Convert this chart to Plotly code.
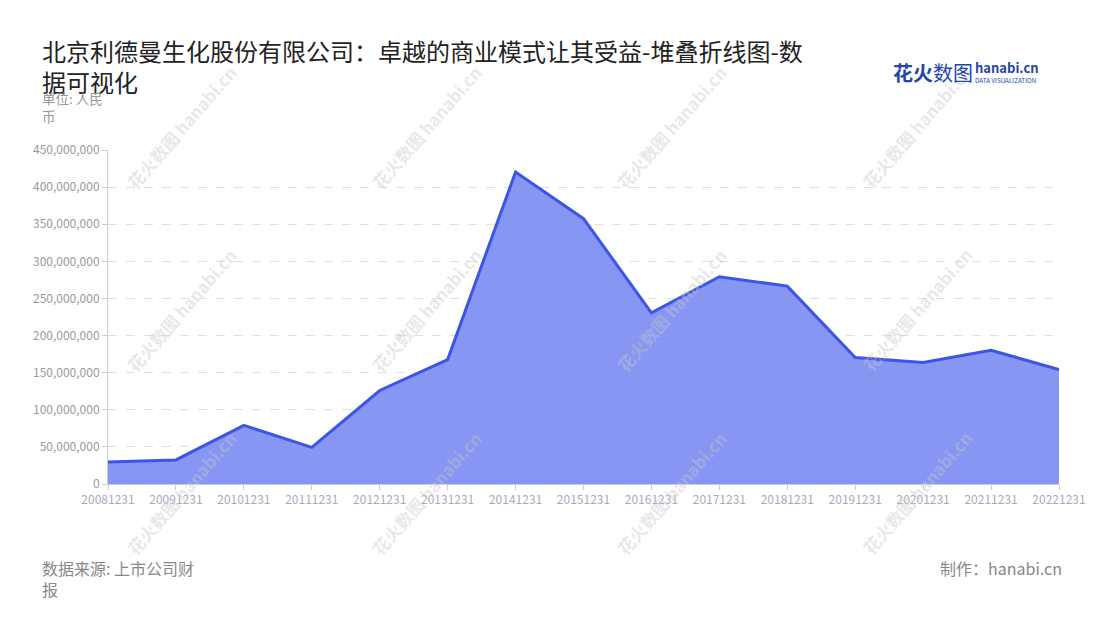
import plotly.graph_objects as go

dates = ["20081231", "20091231", "20101231", "20111231", "20121231", "20131231",
         "20141231", "20151231", "20161231", "20171231", "20181231", "20191231",
         "20201231", "20211231", "20221231"]
revenue = [29.7e6, 32.4e6, 79.0e6, 49.4e6, 126.0e6, 167.7e6, 420.3e6, 357.5e6,
           230.7e6, 279.2e6, 266.6e6, 170.4e6, 163.6e6, 180.2e6, 154.2e6]
y_ticks = [0, 50e6, 100e6, 150e6, 200e6, 250e6, 300e6, 350e6, 400e6, 450e6]
y_tick_labels = ["0", "50,000,000", "100,000,000", "150,000,000", "200,000,000",
                 "250,000,000", "300,000,000", "350,000,000", "400,000,000", "450,000,000"]

FONT = "Noto Sans CJK SC"

fig = go.Figure()
fig.add_trace(go.Scatter(
    x=dates, y=revenue, mode="lines",
    line=dict(color="#3b55e6", width=3),
    fill="tozeroy", fillcolor="#8696f2",
    hoverinfo="x+y", showlegend=False,
))

annotations = []
# watermarks
for wx in [0.0778, 0.3354, 0.593, 0.8507]:
    for wy in [1.0689, 0.521, -0.0269]:
        annotations.append(dict(
            xref="paper", yref="paper", x=wx, y=wy, xanchor="center", yanchor="middle",
            showarrow=False,
            text="<b>花火数图 hanabi.cn</b>", textangle=-49,
            font=dict(family=FONT, size=17, color="rgba(200,200,200,0.42)"),
        ))

annotations += [
    dict(xref="paper", yref="paper", x=-0.0715, y=1.1916, xanchor="left", yanchor="top",
         showarrow=False, align="left",
         text="单位: 人民<br>币",
         font=dict(family=FONT, size=13.5, color="#999999")),
    dict(xref="paper", yref="paper", x=-0.0715, y=-0.211, xanchor="left", yanchor="top",
         showarrow=False, align="left",
         text="数据来源: 上市公司财<br>报",
         font=dict(family=FONT, size=16, color="#888888")),
    dict(xref="paper", yref="paper", x=1.0053, y=-0.211, xanchor="right", yanchor="top",
         showarrow=False, align="right",
         text="制作：hanabi.cn",
         font=dict(family=FONT, size=16, color="#888888")),
    # logo
    dict(xref="paper", yref="paper", x=0.823, y=1.2335, xanchor="left", yanchor="middle",
         showarrow=False, text="<b>花火</b>数图",
         font=dict(family=FONT, size=20, color="#2446a8")),
    dict(xref="paper", yref="paper", x=0.9096, y=1.246, xanchor="left", yanchor="middle",
         showarrow=False, text="<b>hanabi.cn</b>",
         font=dict(family=FONT, size=13, color="#2446a8")),
    dict(xref="paper", yref="paper", x=0.9096, y=1.208, xanchor="left", yanchor="middle",
         showarrow=False, text="DATA VISUALIZATION",
         font=dict(family=FONT, size=6.3, color="#2446a8")),
]

fig.update_layout(
    width=1100, height=620,
    paper_bgcolor="white", plot_bgcolor="white",
    margin=dict(l=100, r=49, t=142, b=144),
    font=dict(family=FONT),
    title=dict(
        text="北京利德曼生化股份有限公司：卓越的商业模式让其受益-堆叠折线图-数<br>据可视化",
        x=0.031, xanchor="left", y=0.915, yanchor="top",
        font=dict(family=FONT, size=24, color="#222222"),
    ),
    annotations=annotations,
    xaxis=dict(
        type="category", range=[0, len(dates) - 1],
        showgrid=False, showline=True, linecolor="#cccccc", linewidth=1,
        ticks="outside", ticklen=5, tickcolor="#cccccc",
        tickfont=dict(family=FONT, size=12, color="#aaaabb"),
        fixedrange=True,
    ),
    yaxis=dict(
        range=[0, 450e6], tickvals=y_ticks, ticktext=y_tick_labels,
        showgrid=True, gridcolor="#e0e0e0", griddash="dash", gridwidth=1,
        showline=True, linecolor="#cccccc", linewidth=1,
        ticks="outside", ticklen=5, tickcolor="#cccccc",
        tickfont=dict(family=FONT, size=12, color="#999999"),
        zeroline=False, fixedrange=True,
    ),
)

fig.write_html("out.html")
